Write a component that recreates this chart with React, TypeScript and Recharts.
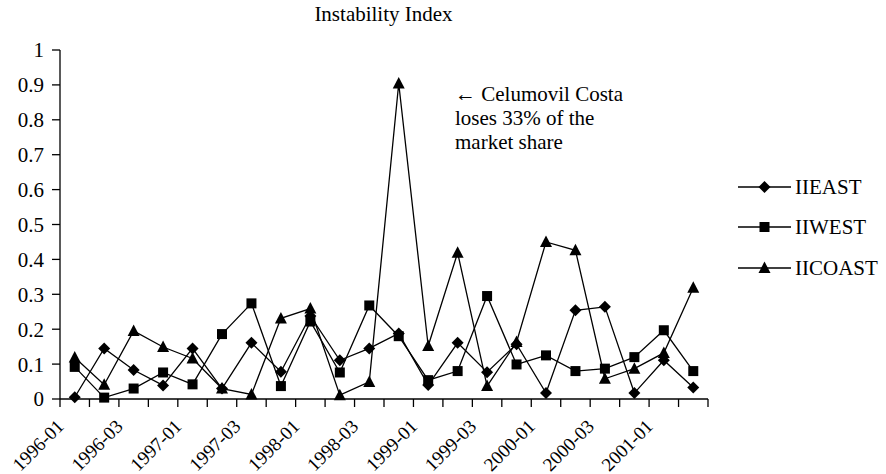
import React from 'react';
import { LineChart, Line, XAxis, YAxis, Legend, Customized } from 'recharts';

const periods = [
  '1996-01', '1996-02', '1996-03', '1996-04',
  '1997-01', '1997-02', '1997-03', '1997-04',
  '1998-01', '1998-02', '1998-03', '1998-04',
  '1999-01', '1999-02', '1999-03', '1999-04',
  '2000-01', '2000-02', '2000-03', '2000-04',
  '2001-01', '2001-02',
];
const tickLabels = [
  '1996-01', '1996-03', '1997-01', '1997-03', '1998-01', '1998-03',
  '1999-01', '1999-03', '2000-01', '2000-03', '2001-01',
];
const iiEast = [0.005, 0.145, 0.083, 0.039, 0.145, 0.030, 0.161, 0.078, 0.238, 0.111, 0.145, 0.188, 0.040, 0.161, 0.077, 0.157, 0.017, 0.254, 0.264, 0.017, 0.111, 0.033];
const iiWest = [0.092, 0.004, 0.030, 0.076, 0.042, 0.186, 0.274, 0.037, 0.222, 0.076, 0.268, 0.180, 0.054, 0.080, 0.295, 0.099, 0.125, 0.080, 0.087, 0.120, 0.197, 0.080];
const iiCoast = [0.119, 0.041, 0.195, 0.149, 0.116, 0.030, 0.013, 0.231, 0.259, 0.011, 0.049, 0.904, 0.152, 0.419, 0.037, 0.163, 0.450, 0.426, 0.058, 0.087, 0.132, 0.319];
const yTicks = [0, 0.1, 0.2, 0.3, 0.4, 0.5, 0.6, 0.7, 0.8, 0.9, 1];
const seriesOrder = ['IIEAST', 'IIWEST', 'IICOAST'];
const titleText = 'Instability Index';
const noteLines = ['\u2190 Celumovil Costa', 'loses 33% of the', 'market share'];

const data = periods.map((p, i) => ({
  period: p,
  pos: i + 0.5,
  IIEAST: iiEast[i],
  IIWEST: iiWest[i],
  IICOAST: iiCoast[i],
}));
const boundaryTicks = [...periods.map((_, i) => i), periods.length];

const FONT = '"Liberation Serif", "Times New Roman", serif';

const shape = (kind: string, cx: number, cy: number, key?: any) => {
  if (kind === 'IIEAST') {
    return <path key={key} d={`M${cx},${cy - 6}L${cx + 6},${cy}L${cx},${cy + 6}L${cx - 6},${cy}Z`} fill="#000" />;
  }
  if (kind === 'IIWEST') {
    return <rect key={key} x={cx - 5} y={cy - 5} width={10} height={10} fill="#000" />;
  }
  return <path key={key} d={`M${cx},${cy - 6.5}L${cx + 6},${cy + 5}L${cx - 6},${cy + 5}Z`} fill="#000" />;
};

const makeDot = (kind: string) => (props: any) => {
  const { cx, cy, index } = props;
  if (cx == null || cy == null) return <g key={`n${index}`} />;
  return shape(kind, cx, cy, `${kind}-${index}`);
};

const XTick = (props: any) => {
  const { x, y, payload } = props;
  const v = payload.value;
  const name = periods[v];
  if (!name || !tickLabels.includes(name)) return <g />;
  const ax = x + 5;
  const ay = y + 18.5;
  return (
    <text
      x={ax}
      y={ay}
      transform={`rotate(-45, ${ax}, ${ay})`}
      textAnchor="end"
      fontFamily={FONT}
      fontSize={19}
      fill="#000"
    >
      {name}
    </text>
  );
};

const renderLegend = (props: any) => {
  const payload = [...(props.payload || [])].sort(
    (a: any, b: any) => seriesOrder.indexOf(a.value) - seriesOrder.indexOf(b.value)
  );
  return (
    <div style={{ fontFamily: FONT, fontSize: 21, color: '#000' }}>
      {payload.map((entry: any) => (
        <div key={entry.value} style={{ height: 40.5, display: 'flex', alignItems: 'center' }}>
          <svg width={53} height={20} style={{ display: 'block' }}>
            <line x1={0} y1={10} x2={53} y2={10} stroke="#000" strokeWidth={1.3} />
            {shape(entry.value, 26.5, 10)}
          </svg>
          <span style={{ marginLeft: 4, lineHeight: '20px' }}>{entry.value}</span>
        </div>
      ))}
    </div>
  );
};

const Annotations = () => (
  <g>
    <text x={383.5} y={21} textAnchor="middle" fontFamily={FONT} fontSize={21} fill="#000">
      {titleText}
    </text>
    {noteLines.map((t, i) => (
      <text key={t} x={455} y={101 + i * 24} fontFamily={FONT} fontSize={21} fill="#000">
        {t}
      </text>
    ))}
  </g>
);

export default function App() {
  return (
    <div style={{ position: 'absolute', left: 0, top: 0, width: 886, height: 474, background: '#fff' }}>
      <LineChart
        width={886}
        height={474}
        data={data}
        margin={{ top: 50, right: 178, bottom: 0, left: 0 }}
      >
        <XAxis
          dataKey="pos"
          type="number"
          domain={[0, periods.length]}
          ticks={boundaryTicks}
          interval={0}
          tick={<XTick />}
          tickSize={8}
          axisLine={{ stroke: '#000', strokeWidth: 1.3 }}
          tickLine={{ stroke: '#000', strokeWidth: 1.3 }}
          height={75}
          allowDataOverflow
        />
        <YAxis
          type="number"
          domain={[0, 1]}
          ticks={yTicks}
          interval={0}
          width={60}
          tickSize={8}
          tickMargin={8}
          tickFormatter={(v: number) => String(Number(v.toFixed(1)))}
          tick={{ fontFamily: FONT, fontSize: 21, fill: '#000' }}
          axisLine={{ stroke: '#000', strokeWidth: 1.3 }}
          tickLine={{ stroke: '#000', strokeWidth: 1.3 }}
        />
        <Legend
          layout="vertical"
          align="center"
          verticalAlign="middle"
          content={renderLegend}
          wrapperStyle={{ position: 'absolute', left: 738, top: 166.5, width: 148, height: 122 }}
        />
        <Line dataKey="IIEAST" name="IIEAST" stroke="#000" strokeWidth={1.3} dot={makeDot('IIEAST')} activeDot={false} isAnimationActive={false} />
        <Line dataKey="IIWEST" name="IIWEST" stroke="#000" strokeWidth={1.3} dot={makeDot('IIWEST')} activeDot={false} isAnimationActive={false} />
        <Line dataKey="IICOAST" name="IICOAST" stroke="#000" strokeWidth={1.3} dot={makeDot('IICOAST')} activeDot={false} isAnimationActive={false} />
        <Customized component={Annotations} />
      </LineChart>
    </div>
  );
}
